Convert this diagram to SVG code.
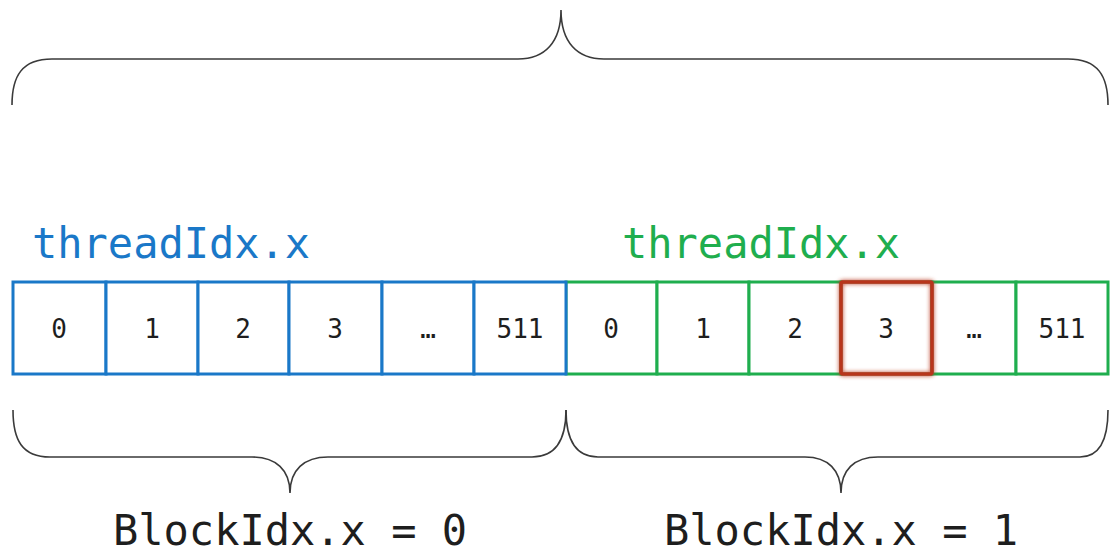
<svg xmlns="http://www.w3.org/2000/svg" width="1112" height="552" viewBox="0 0 1112 552">
  <style>
    .brace { fill: none; stroke: #3a3a3a; stroke-width: 1.6; }
    .cell-blue { fill: #ffffff; stroke: #1a78c8; stroke-width: 3; }
    .cell-green { fill: #ffffff; stroke: #1fae4e; stroke-width: 3; }
    .cell-red { fill: none; stroke: #b8351f; stroke-width: 3.5; }
    .num { font-family: "DejaVu Sans Mono", "Liberation Mono", monospace; font-size: 26px; fill: #1e1e1e; text-anchor: middle; }
    .label { font-family: "DejaVu Sans Mono", "Liberation Mono", monospace; font-size: 42px; }
  </style>
  <defs>
    <filter id="glow" x="-20%" y="-20%" width="140%" height="140%">
      <feGaussianBlur in="SourceGraphic" stdDeviation="2" result="b"/>
      <feMerge>
        <feMergeNode in="b"/>
        <feMergeNode in="SourceGraphic"/>
      </feMerge>
    </filter>
  </defs>
  <rect width="1112" height="552" fill="#ffffff"/>

  <!-- braces -->
  <g id="connectors">
    <path class="brace" d="M 12 105 C 12 76, 22 59, 52 59 L 518 59 C 545 59, 561 42, 561 10 C 561 42, 577 59, 604 59 L 1068 59 C 1098 59, 1108 76, 1108 105"/>
    <path class="brace" d="M 13 410 C 13 440, 22 457, 50 457 L 252 457 C 276 457, 290 470, 290 493 C 290 470, 304 457, 328 457 L 532 457 C 556 457, 566 440, 566 410"/>
    <path class="brace" d="M 566 410 C 566 440, 576 457, 598 457 L 805 457 C 828 457, 841 470, 841 493 C 841 470, 854 457, 878 457 L 1080 457 C 1100 457, 1108 440, 1108 410"/>
  </g>

  <!-- block 1 (drawn first so block 0's right edge stays on top) -->
  <g id="block1">
    <text class="label" x="622" y="258" fill="#1fae4e">threadIdx.x</text>
    <rect class="cell-green" x="566" y="282" width="91" height="92"/>
    <rect class="cell-green" x="657" y="282" width="92" height="92"/>
    <rect class="cell-green" x="749" y="282" width="92" height="92"/>
    <rect class="cell-green" x="841" y="282" width="91" height="92"/>
    <rect class="cell-green" x="932" y="282" width="84" height="92"/>
    <rect class="cell-green" x="1016" y="282" width="92" height="92"/>
    <text class="num" x="611" y="338">0</text>
    <text class="num" x="703" y="338">1</text>
    <text class="num" x="795" y="338">2</text>
    <text class="num" x="886" y="338">3</text>
    <text class="num" x="974" y="338">…</text>
    <text class="num" x="1062" y="338">511</text>
  </g>

  <!-- block 0 -->
  <g id="block0">
    <text class="label" x="32" y="258" fill="#1a78c8">threadIdx.x</text>
    <rect class="cell-blue" x="13" y="282" width="93" height="92"/>
    <rect class="cell-blue" x="106" y="282" width="92" height="92"/>
    <rect class="cell-blue" x="198" y="282" width="91" height="92"/>
    <rect class="cell-blue" x="289" y="282" width="93" height="92"/>
    <rect class="cell-blue" x="382" y="282" width="92" height="92"/>
    <rect class="cell-blue" x="474" y="282" width="92" height="92"/>
    <text class="num" x="59" y="338">0</text>
    <text class="num" x="152" y="338">1</text>
    <text class="num" x="243" y="338">2</text>
    <text class="num" x="335" y="338">3</text>
    <text class="num" x="428" y="338">…</text>
    <text class="num" x="520" y="338">511</text>
  </g>

  <!-- highlighted thread -->
  <g id="highlight">
    <rect class="cell-red" x="841" y="282" width="91" height="92" rx="2" filter="url(#glow)"/>
  </g>

  <!-- block labels -->
  <g id="label0">
    <text class="label" x="113" y="545" fill="#1e1e1e">BlockIdx.x = 0</text>
  </g>
  <g id="label1">
    <text class="label" x="664" y="545" fill="#1e1e1e">BlockIdx.x = 1</text>
  </g>
</svg>
